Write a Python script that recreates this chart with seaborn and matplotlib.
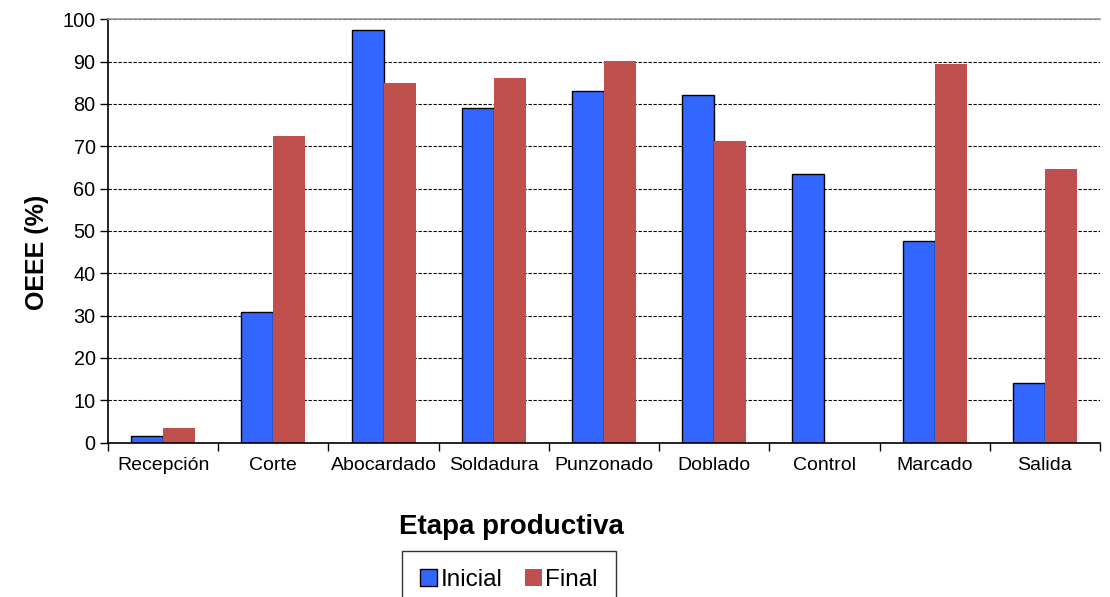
import matplotlib
matplotlib.use("Agg")
import matplotlib.pyplot as plt
import seaborn as sns
import pandas as pd
import numpy as np

etapas = ["Recepción", "Corte", "Abocardado", "Soldadura", "Punzonado",
          "Doblado", "Control", "Marcado", "Salida"]
inicial = [1.6, 30.9, 97.5, 79.0, 83.0, 82.1, 63.5, 47.6, 14.2]
final = [3.5, 72.5, 85.0, 86.1, 90.1, 71.3, 0.0, 89.5, 64.6]
series = ["Inicial", "Final"]
colores = ["#3366FF", "#C0504D"]

df = pd.DataFrame({
    "Etapa": etapas * 2,
    "Serie": [series[0]] * len(etapas) + [series[1]] * len(etapas),
    "OEEE": inicial + final,
})

sns.set_style("white")
plt.rcParams["font.family"] = ["Liberation Sans", "DejaVu Sans"]
plt.rcParams["text.color"] = "black"
plt.rcParams["axes.labelcolor"] = "black"
plt.rcParams["xtick.color"] = "black"
plt.rcParams["ytick.color"] = "black"

fig = plt.figure(figsize=(11.1, 5.97), dpi=100)
ax = fig.add_axes([0.0973, 0.2585, 0.8937, 0.7092])

sns.barplot(data=df, x="Etapa", y="OEEE", hue="Serie", order=etapas,
            hue_order=series, palette=colores, width=0.58, saturation=1,
            ax=ax, legend=False)

for i, cont in enumerate(ax.containers):
    for bar in cont:
        if i == 0:
            bar.set_edgecolor("black")
            bar.set_linewidth(1.0)
        else:
            bar.set_edgecolor("none")
            bar.set_linewidth(0)

ax.set_ylim(0, 100)
ax.set_xlim(-0.5, len(etapas) - 0.5)
ax.set_yticks(np.arange(0, 101, 10))
ax.yaxis.grid(True, linestyle=(0, (3, 1.5)), color="black", linewidth=0.8)
ax.set_axisbelow(True)

ax.set_xticks(np.arange(-0.5, len(etapas), 1.0))
ax.set_xticklabels([])
ax.set_xticks(np.arange(len(etapas)), minor=True)
ax.set_xticklabels(etapas, minor=True, fontsize=14)
ax.tick_params(axis="x", which="major", direction="out", length=6, width=1, color="black", bottom=True)
ax.tick_params(axis="x", which="minor", length=0, pad=10, labelcolor="black")
ax.tick_params(axis="y", direction="out", length=6, width=1, color="black", left=True,
               labelsize=14.3, pad=3, labelcolor="black")

for s in ["left", "bottom"]:
    ax.spines[s].set_color("black")
    ax.spines[s].set_linewidth(1.2)
ax.spines["top"].set_color("#999999")
ax.spines["top"].set_linewidth(1.2)
ax.spines["right"].set_visible(False)

ax.set_ylabel("OEEE (%)", fontsize=18, fontweight="bold", color="black")
ax.yaxis.set_label_coords(-0.072, (442.7 - 252) / 423.4)
ax.set_xlabel("Etapa productiva", fontsize=20, fontweight="bold", color="black")
ax.xaxis.set_label_coords((511 - 108) / 992, -(527 - 442.7) / 423.4)
ax.xaxis.label.set_va("center")
ax.yaxis.label.set_va("center")

handles = [plt.Rectangle((0, 0), 1, 1, facecolor=colores[0], edgecolor="black", linewidth=1),
           plt.Rectangle((0, 0), 1, 1, facecolor=colores[1], edgecolor="none")]
leg = fig.legend(handles, series, loc="upper center", bbox_to_anchor=(509 / 1110, 1 - 551 / 597),
                 ncol=2, fontsize=17.5, frameon=True, fancybox=False, edgecolor="black",
                 handlelength=0.7, handleheight=0.7, handletextpad=0.15, columnspacing=0.9,
                 borderpad=0.75, borderaxespad=0)
leg.get_frame().set_linewidth(1.0)

fig.savefig("out.png", dpi=100)
